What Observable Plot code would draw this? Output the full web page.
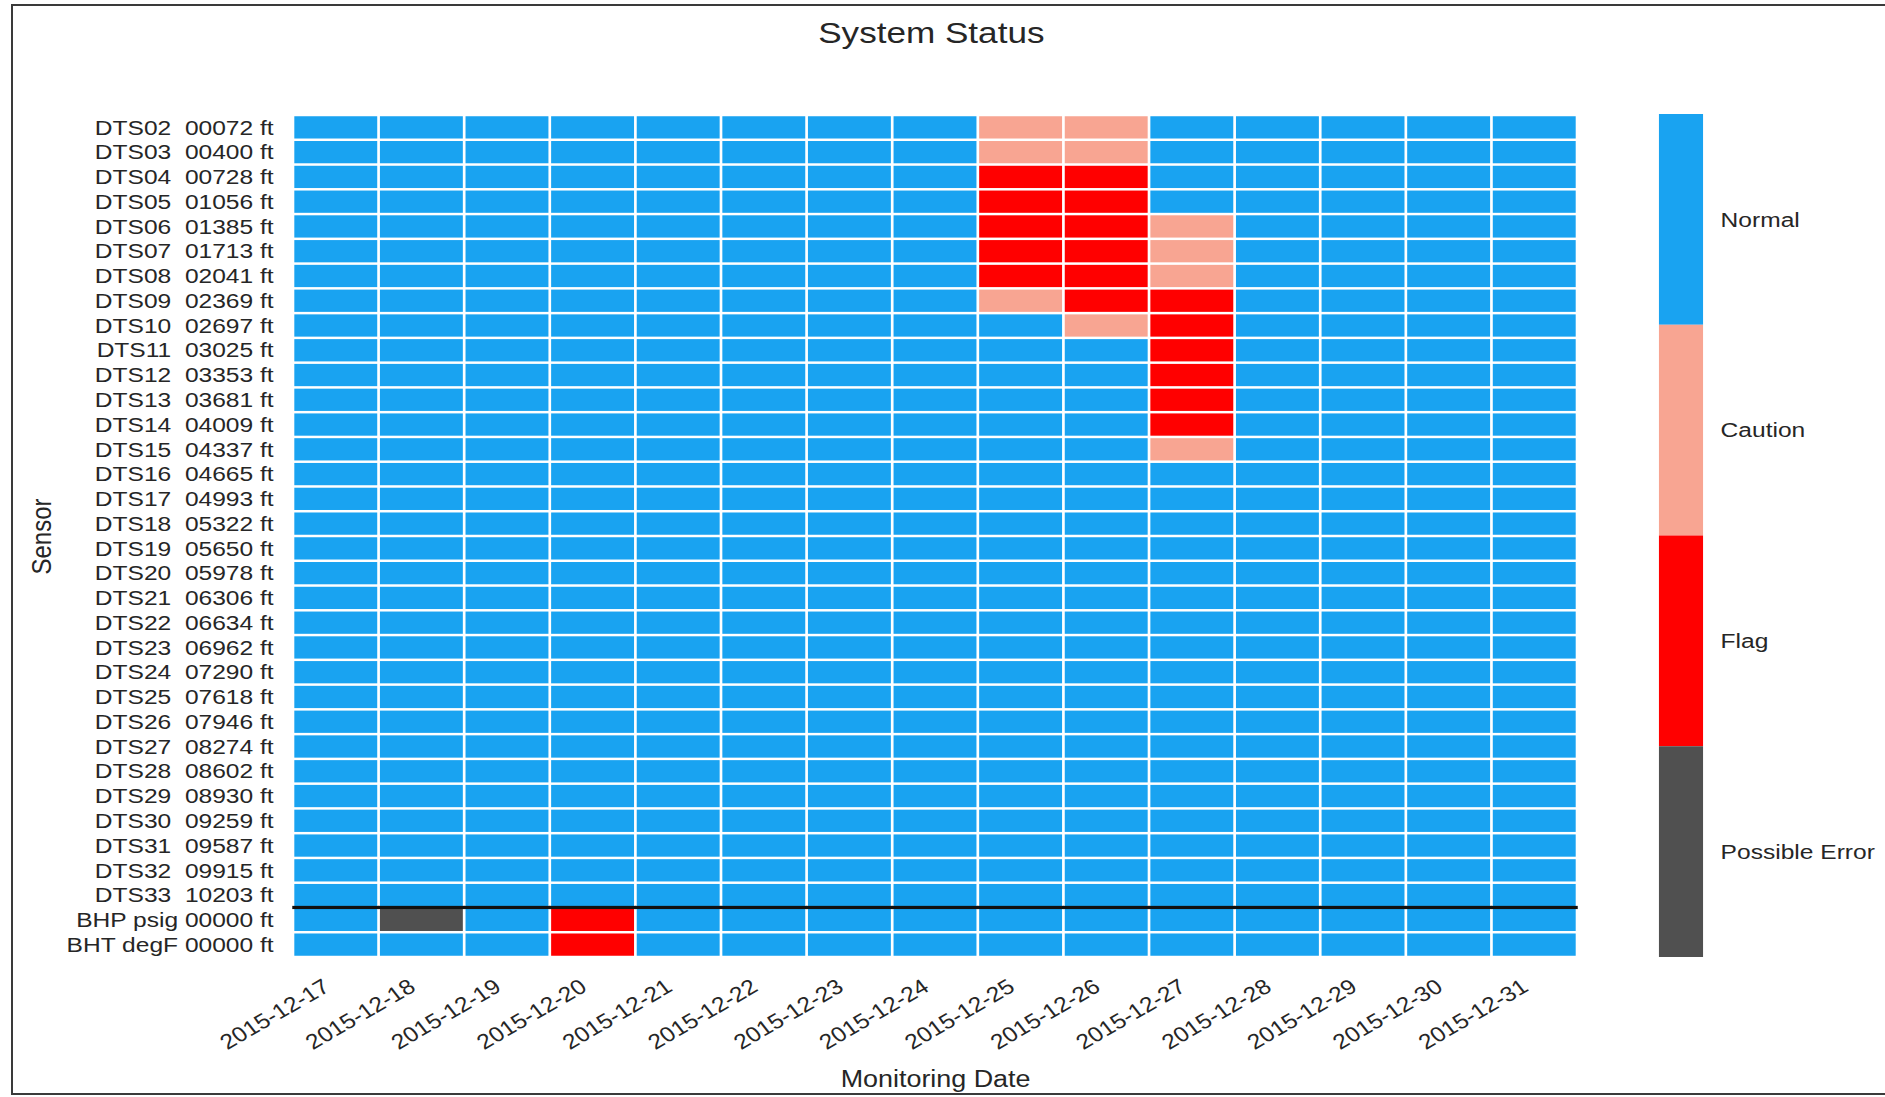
<!DOCTYPE html>
<html><head><meta charset="utf-8">
<script src="https://cdn.jsdelivr.net/npm/d3@7"></script>
<script src="https://cdn.jsdelivr.net/npm/@observablehq/plot@0.6"></script>
<style>
html,body{margin:0;padding:0;background:#fff;width:1885px;height:1097px;overflow:hidden;}
#frame{position:absolute;left:11px;top:4px;width:1890px;height:1091px;box-sizing:border-box;border:2px solid #3a3a3a;}
#stage{position:absolute;left:0;top:0;width:1611px;height:1097px;transform:scaleX(1.17);transform-origin:0 0;}
#stage svg{position:absolute;left:0;top:0;}
#title{position:absolute;left:396px;width:800px;top:18px;text-align:center;font:30px/30px "Liberation Sans",Arial,sans-serif;color:#262626;}
svg text{white-space:pre;}
</style></head><body>
<div id="frame"></div>
<div id="stage"><div id="title">System Status</div></div>
<script>
const dates = ["2015-12-17","2015-12-18","2015-12-19","2015-12-20","2015-12-21","2015-12-22","2015-12-23","2015-12-24","2015-12-25","2015-12-26","2015-12-27","2015-12-28","2015-12-29","2015-12-30","2015-12-31"];
const sensorLabels = [
  "DTS02  00072 ft","DTS03  00400 ft","DTS04  00728 ft","DTS05  01056 ft","DTS06  01385 ft",
  "DTS07  01713 ft","DTS08  02041 ft","DTS09  02369 ft","DTS10  02697 ft","DTS11  03025 ft",
  "DTS12  03353 ft","DTS13  03681 ft","DTS14  04009 ft","DTS15  04337 ft","DTS16  04665 ft",
  "DTS17  04993 ft","DTS18  05322 ft","DTS19  05650 ft","DTS20  05978 ft","DTS21  06306 ft",
  "DTS22  06634 ft","DTS23  06962 ft","DTS24  07290 ft","DTS25  07618 ft","DTS26  07946 ft",
  "DTS27  08274 ft","DTS28  08602 ft","DTS29  08930 ft","DTS30  09259 ft","DTS31  09587 ft",
  "DTS32  09915 ft","DTS33  10203 ft","BHP psig 00000 ft","BHT degF 00000 ft"
];
// one letter per date: N = Normal, C = Caution, F = Flag, E = Possible Error
const statusCodes = [
  "NNNNNNNNCCNNNNN", // DTS02
  "NNNNNNNNCCNNNNN", // DTS03
  "NNNNNNNNFFNNNNN", // DTS04
  "NNNNNNNNFFNNNNN", // DTS05
  "NNNNNNNNFFCNNNN", // DTS06
  "NNNNNNNNFFCNNNN", // DTS07
  "NNNNNNNNFFCNNNN", // DTS08
  "NNNNNNNNCFFNNNN", // DTS09
  "NNNNNNNNNCFNNNN", // DTS10
  "NNNNNNNNNNFNNNN", // DTS11
  "NNNNNNNNNNFNNNN", // DTS12
  "NNNNNNNNNNFNNNN", // DTS13
  "NNNNNNNNNNFNNNN", // DTS14
  "NNNNNNNNNNCNNNN", // DTS15
  "NNNNNNNNNNNNNNN", // DTS16
  "NNNNNNNNNNNNNNN", // DTS17
  "NNNNNNNNNNNNNNN", // DTS18
  "NNNNNNNNNNNNNNN", // DTS19
  "NNNNNNNNNNNNNNN", // DTS20
  "NNNNNNNNNNNNNNN", // DTS21
  "NNNNNNNNNNNNNNN", // DTS22
  "NNNNNNNNNNNNNNN", // DTS23
  "NNNNNNNNNNNNNNN", // DTS24
  "NNNNNNNNNNNNNNN", // DTS25
  "NNNNNNNNNNNNNNN", // DTS26
  "NNNNNNNNNNNNNNN", // DTS27
  "NNNNNNNNNNNNNNN", // DTS28
  "NNNNNNNNNNNNNNN", // DTS29
  "NNNNNNNNNNNNNNN", // DTS30
  "NNNNNNNNNNNNNNN", // DTS31
  "NNNNNNNNNNNNNNN", // DTS32
  "NNNNNNNNNNNNNNN", // DTS33
  "NENFNNNNNNNNNNN", // BHP psig
  "NNNFNNNNNNNNNNN"  // BHT degF
];
const statusKeys = ["Normal","Caution","Flag","Possible Error"];
const statusLetters = ["N","C","F","E"];
const statusColors = ["#19a3f1","#f8a592","#ff0000","#505050"];
const separatorSensor = "BHP psig 00000 ft";
const xTitle = "Monitoring Date";
const yTitle = "Sensor";

const W = 1611, H = 1097;
const cells = [];
sensorLabels.forEach((s, i) => {
  for (let j = 0; j < dates.length; j++) {
    cells.push({sensor: s, date: dates[j], status: statusKeys[statusLetters.indexOf(statusCodes[i][j])]});
  }
});

const mT = 115, mB = 140;
const bw = (H - mT - mB) / sensorLabels.length;
const color = {type: "ordinal", domain: statusKeys, range: statusColors};
const font = '"Liberation Sans", Arial, sans-serif';
const baseStyle = {fontFamily: font, fontSize: "21px", color: "#262626", background: "transparent", overflow: "visible"};

const main = Plot.plot({
  width: W, height: H,
  marginLeft: 250.4, marginRight: 263.1, marginTop: mT, marginBottom: mB,
  style: baseStyle,
  x: {type: "band", domain: dates, padding: 0, round: false, axis: null},
  y: {type: "band", domain: sensorLabels, padding: 0, round: false, tickSize: 0, tickPadding: 17, label: null},
  color,
  marks: [
    Plot.cell(cells, {x: "date", y: "sensor", fill: "status", insetLeft: 1.15, insetRight: 1.15, insetTop: 1.25, insetBottom: 1.25}),
    Plot.cell(dates, {x: d => d, y: () => separatorSensor, fill: "#111", insetLeft: -0.6, insetRight: -0.6, insetTop: -1.6, insetBottom: bw - 1.6}),
    Plot.text(dates, {x: d => d, frameAnchor: "bottom", text: d => d, rotate: -34, textAnchor: "end", lineAnchor: "middle", dx: -8, dy: 27, fontSize: 21, fill: "#262626"}),
    Plot.text([xTitle], {frameAnchor: "bottom", text: d => d, textAnchor: "middle", lineAnchor: "bottom", dy: 129, fontSize: 23, fill: "#262626"}),
    Plot.text([yTitle], {frameAnchor: "left", text: d => d, rotate: -90, textAnchor: "middle", lineAnchor: "bottom", dx: -207, fontSize: 24, fill: "#262626"})
  ]
});

const legend = Plot.plot({
  width: W, height: H,
  marginLeft: 1417.9, marginRight: 155.4, marginTop: 114, marginBottom: 140,
  style: baseStyle,
  y: {type: "band", domain: statusKeys, padding: 0, round: false, axis: "right", tickSize: 0, tickPadding: 14.5, label: null},
  color,
  marks: [
    Plot.cell(statusKeys, {y: d => d, fill: d => d})
  ]
});

document.getElementById("stage").append(main, legend);
</script>
</body></html>
